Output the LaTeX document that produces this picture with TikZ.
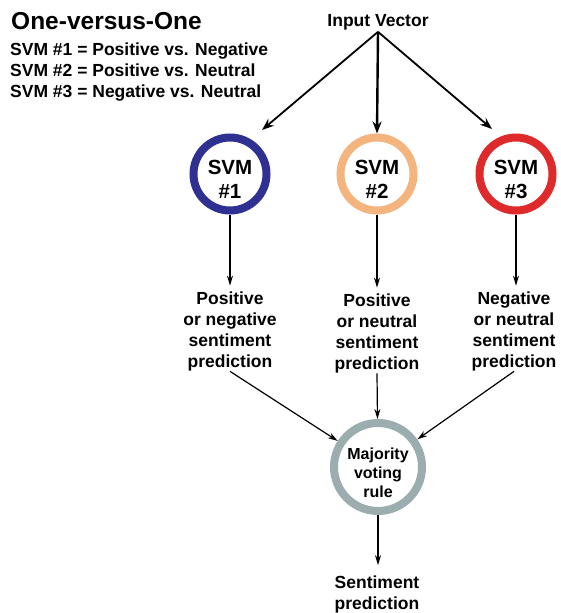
\documentclass[tikz,border=0pt]{standalone}
\usepackage{fontspec}
\setmainfont{Liberation Sans}
\usetikzlibrary{arrows.meta}

\definecolor{svmblue}{HTML}{2E3192}
\definecolor{svmorange}{HTML}{F4B47D}
\definecolor{svmred}{HTML}{DE2A2A}
\definecolor{votegrey}{HTML}{9BADAF}

% invisible strut that lowers the text block inside a ring
\newcommand{\lowerby}[1]{\rule{0pt}{#1}}

\begin{document}
\begin{tikzpicture}[x=1pt,y=-1pt,
  ring/.style={circle, draw=#1, fill=white, line width=8pt, minimum size=73pt,
    inner sep=0pt, align=center, font=\fontsize{20.5}{24.5}\selectfont\bfseries},
  votering/.style={circle, draw=votegrey, fill=white, line width=8pt, minimum size=88pt,
    inner sep=0pt, align=center, font=\fontsize{16}{19}\selectfont\bfseries},
  caption/.style={align=center, inner sep=0pt, font=\fontsize{17.5}{21}\selectfont\bfseries},
  legend/.style={anchor=base west, inner sep=0pt, font=\fontsize{17.5}{21}\selectfont\bfseries},
  bigarrow/.style={-{Stealth[length=12pt,width=9pt]}, line width=1.8pt},
  thinarrow/.style={-{Stealth[length=10pt,width=6pt]}, line width=1.2pt}]

  % canvas
  \fill[white] (0,0) rectangle (561,613);
  \useasboundingbox (0,0) rectangle (561,613);

  % legend at the top left
  \node[anchor=base west, inner sep=0pt, font=\fontsize{24.5}{28}\selectfont\bfseries]
    (title) at (11,29) {One-versus-One};
  \node[legend] (leg1) at (10,55) {SVM \#1 = Positive vs. Negative};
  \node[legend] (leg2) at (10,76) {SVM \#2 = Positive vs. Neutral};
  \node[legend] (leg3) at (10,97) {SVM \#3 = Negative vs. Neutral};

  % input
  \node[anchor=base, inner sep=1pt, font=\fontsize{17.5}{21}\selectfont\bfseries]
    (in) at (378,27) {Input Vector};

  % the three classifiers
  \node[ring=svmblue]   (s1) at (230,174) {\lowerby{25pt}SVM\\\#1};
  \node[ring=svmorange] (s2) at (377,174) {\lowerby{25pt}SVM\\\#2};
  \node[ring=svmred]    (s3) at (516,174) {\lowerby{25pt}SVM\\\#3};

  \coordinate (t1) at (262,130);
  \coordinate (t3) at (492,129);
  \draw[bigarrow] (in.south) -- (t1);
  \draw[bigarrow, line width=2.4pt] (in.south) -- (s2.north);
  \draw[bigarrow] (in.south) -- (t3);

  % per-classifier predictions
  \node[caption] (l1) at (230,331.5) {Positive\\or negative\\sentiment\\prediction};
  \node[caption] (l2) at (377,333.5) {Positive\\or neutral\\sentiment\\prediction};
  \node[caption] (l3) at (514,331.5) {Negative\\or neutral\\sentiment\\prediction};

  \draw[thinarrow, shorten >=6pt] (s1) -- (s1 |- l1.north);
  \draw[thinarrow, shorten >=6pt] (s2) -- (s2 |- l2.north);
  \draw[thinarrow, shorten >=6pt] (s3) -- (s3 |- l3.north);

  % voting
  \node[votering] (maj) at (378,467) {\lowerby{24pt}Majority\\voting\\rule};

  \draw[thinarrow] (l1.south) -- (maj);
  \draw[thinarrow] (l2.south) -- (maj);
  \draw[thinarrow] (l3.south) -- (maj);

  % final output
  \node[caption] (out) at (377,594) {Sentiment\\prediction};
  \draw[thinarrow, shorten >=10pt] (maj) -- (maj |- out.north);
\end{tikzpicture}
\end{document}
